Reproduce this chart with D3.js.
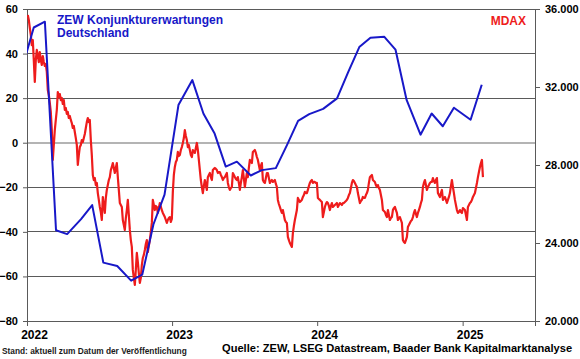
<!DOCTYPE html>
<html><head><meta charset="utf-8">
<script src="https://cdn.jsdelivr.net/npm/d3@7"></script>
<style>
body{margin:0;background:#fff}
svg{display:block}
text{font-family:"Liberation Sans",Arial,sans-serif;font-weight:bold}
</style>
</head><body><svg id="c" width="580" height="359"></svg>
<script>
// ZEW economic sentiment (release dates)
const zewDates = ["2021-12-14","2022-01-18","2022-02-15","2022-03-15","2022-04-12","2022-05-17","2022-06-14","2022-07-12","2022-08-16","2022-09-20","2022-10-18","2022-11-15","2022-12-13",
"2023-01-17","2023-02-21","2023-03-21","2023-04-18","2023-05-16","2023-06-13","2023-07-18","2023-08-15","2023-09-19","2023-10-17","2023-11-14","2023-12-12",
"2024-01-16","2024-02-20","2024-03-19","2024-04-16","2024-05-14","2024-06-18","2024-07-16","2024-08-13","2024-09-17","2024-10-15","2024-11-12","2024-12-10",
"2025-01-21","2025-02-18"];
const zewValues = [29.9,51.7,54.3,-39.3,-41.0,-34.3,-28.0,-53.8,-55.3,-61.9,-59.2,-36.7,-23.3,
16.9,28.1,13.0,4.1,-10.7,-8.5,-14.7,-12.3,-11.4,-1.1,9.8,12.8,
15.2,19.9,31.7,42.9,47.1,47.5,41.8,19.2,3.6,13.1,7.4,15.7,
10.3,26.0];

// MDAX, sampled evenly between start and end date
const mdaxStart = "2022-01-03";
const mdaxEnd = "2025-02-21";
const mdaxValues = [35690,35440,35030,34670,34150,34410,33380,32260,33380,33900,33640,33280,33790,33380,33130,33590,33280,33080,33180,32770,
31850,31590,31180,30720,29790,28260,29030,29790,30310,30820,31740,31490,31640,31330,31440,31130,31330,30820,30920,30620,
30720,30410,30510,30310,30150,29900,30000,29690,29380,29030,28000,28510,28920,29030,29280,29180,29380,29590,29900,30200,
30410,30200,30310,29280,28510,27490,27230,27330,26970,27080,26560,26210,25850,25590,25180,26360,25950,25540,26310,26720,
26970,27230,27380,27740,27900,28100,27850,27590,27850,28100,27380,26720,26050,25950,25850,25180,24920,24670,25280,25690,
26210,25440,24670,24150,23800,22620,22210,21850,22620,23490,23030,22460,21950,22210,22870,23230,23390,23640,23950,24150,
23540,23850,24150,24560,25030,26210,25950,25690,25900,25850,25540,25790,26050,25850,25690,25540,25440,25330,25180,25030,
25180,25280,25330,25080,25230,26620,27490,27900,28150,28260,28670,28460,28510,28770,28920,29130,29380,29790,29490,29280,
28920,29030,28770,28510,28410,28770,28670,28620,28870,29130,28770,28260,27740,27230,26870,26560,26920,27230,26970,26720,
27380,27490,27590,27380,27230,27740,27800,27850,27800,27740,27590,27640,27640,27490,27380,27230,27330,27380,27490,27590,
27080,26870,26720,26820,26870,27590,27490,27380,27280,27230,27380,27080,26720,27080,27380,27740,27330,26870,27230,27590,
27380,27850,28260,28150,28100,28670,28720,28770,28620,28410,28260,28000,27740,27950,28100,27230,27130,27080,27330,27590,
27590,27330,27080,27180,27230,27130,27180,27230,27030,26870,26210,26000,25850,25690,25540,25690,25440,25180,25080,25030,
24310,24150,24000,23900,23800,24510,24870,25180,25440,25690,26310,26210,26100,26150,26210,26360,26460,26620,26560,26560,
26720,26920,27080,27180,27230,27080,27130,27130,27080,27080,26310,26260,26210,26150,26100,25330,25590,25850,26000,26100,
26050,25900,25690,25900,26050,25850,25900,25950,26000,26050,25850,25950,26050,26000,25950,26050,26050,26100,26150,26210,
26310,26460,26560,26820,27080,27230,27180,27080,26970,26870,26560,26310,26050,26150,26210,26360,26310,26310,26460,26560,
26720,27080,27380,27440,27490,27230,27180,27130,26970,26870,26970,26820,26720,26460,26210,25690,25640,25590,25440,25330,
25690,25440,25180,25280,25330,25690,25790,25850,25690,25540,25180,25280,25330,25180,25030,24150,24050,24000,24150,24310,
24820,24920,25030,25130,25180,25330,25540,25690,25490,25330,25540,25690,25850,26050,26210,26870,27080,27230,26970,26720,
26870,26970,27080,27130,27130,27330,27180,27080,27230,27330,26560,26460,26360,26560,26720,26210,26310,26360,26210,26050,
26210,26360,26560,26920,27230,26870,26560,26210,25950,25690,25540,25590,25690,25590,25540,25790,25740,25690,25440,25180,
25850,25950,26050,26100,26210,26360,26460,26560,26820,27080,27380,27640,27900,28100,28260,27380];

const leftTicks = [-80,-60,-40,-20,0,20,40,60];
const rightTicks = [20000,24000,28000,32000,36000];
const yearTicks = ["2022-01-01","2023-01-01","2024-01-01","2025-01-01"];
const xDomain = ["2022-01-01","2025-07-02"];
const titleLines = ["ZEW Konjunkturerwartungen","Deutschland"];
const mdaxLabel = "MDAX";
const standText = "Stand: aktuell zum Datum der Veröffentlichung";
const sourceText = "Quelle: ZEW, LSEG Datastream, Baader Bank Kapitalmarktanalyse";

const parse = d3.utcParse("%Y-%m-%d");
const L = 27, R = 535, T = 9, B = 321;
const BLUE = "#1818c8", RED = "#ee1c1c";

const svg = d3.select("#c");
const x = d3.scaleUtc().domain(xDomain.map(parse)).range([L, R]);
const yL = d3.scaleLinear().domain([-80, 60]).range([B, T]);
const yR = d3.scaleLinear().domain([20000, 36000]).range([B, T]);

svg.append("defs").append("clipPath").attr("id","clip")
  .append("rect").attr("x",L).attr("y",T-2).attr("width",R-L).attr("height",B-T+4);

// gridlines
svg.append("g").selectAll("line").data(leftTicks.filter(d=>d>-80)).join("line")
  .attr("x1",L).attr("x2",R).attr("y1",d=>yL(d)).attr("y2",d=>yL(d))
  .attr("stroke",d=>d===0?"#b4b4b4":"#5a5a5a").attr("stroke-width",d=>d===0?2:1)
  .attr("shape-rendering","crispEdges");

// axes
const fmtR = v => d3.format(",")(v).replace(/,/g,".");
const gl = svg.append("g").attr("transform",`translate(${L},0)`)
  .call(d3.axisLeft(yL).tickValues(leftTicks).tickSize(4).tickPadding(5));
const gr = svg.append("g").attr("transform",`translate(${R},0)`)
  .call(d3.axisRight(yR).tickValues(rightTicks).tickSize(5).tickPadding(5).tickFormat(fmtR));
const gx = svg.append("g").attr("transform",`translate(0,${B})`)
  .call(d3.axisBottom(x).tickValues(yearTicks.map(parse)).tickSize(5).tickPadding(4).tickFormat(d3.utcFormat("%Y")));
[gl,gr,gx].forEach(g=>{
  g.select(".domain").attr("stroke","#5a5a5a");
  g.selectAll(".tick line").attr("stroke","#5a5a5a");
  g.selectAll("text").attr("fill","#000").style("font-size","11px").style("font-family","Liberation Sans, Arial, sans-serif").style("font-weight","bold");
});
gx.selectAll("text").attr("dx", 7).style("font-size","12px");

// MDAX line
const t0 = parse(mdaxStart).getTime(), t1 = parse(mdaxEnd).getTime();
const n = mdaxValues.length;
const mdax = mdaxValues.map((v,i)=>({d:new Date(t0+(t1-t0)*i/(n-1)), v}));
svg.append("path").datum(mdax).attr("clip-path","url(#clip)")
  .attr("fill","none").attr("stroke",RED).attr("stroke-width",2.2).attr("stroke-linejoin","round")
  .attr("d", d3.line().x(d=>x(d.d)).y(d=>yR(d.v)));

// ZEW line
const zew = zewDates.map((s,i)=>({d:parse(s), v:zewValues[i]}));
svg.append("path").datum(zew).attr("clip-path","url(#clip)")
  .attr("fill","none").attr("stroke",BLUE).attr("stroke-width",2).attr("stroke-linejoin","round")
  .attr("d", d3.line().x(d=>x(d.d)).y(d=>yL(d.v)));

// labels
svg.append("text").attr("x",57).attr("y",24).attr("fill",BLUE).style("font-size","12px")
  .selectAll("tspan").data(titleLines).join("tspan").attr("x",57).attr("dy",(d,i)=>i?13:0).text(d=>d);
svg.append("text").attr("x",526).attr("y",25).attr("text-anchor","end").attr("fill",RED).style("font-size","12px").text(mdaxLabel);

function fitText(xPos, yPos, txt, width, color){
  const t = svg.append("text").attr("x",xPos).attr("y",yPos).attr("fill",color).style("font-size","12px").text(txt);
  const w = t.node().getComputedTextLength();
  t.style("font-size", (12*width/w).toFixed(2)+"px");
  return t;
}
fitText(2, 354, standText, 185, "#1a1a1a");
fitText(222, 352, sourceText, 350, "#000");
</script>
</body></html>
